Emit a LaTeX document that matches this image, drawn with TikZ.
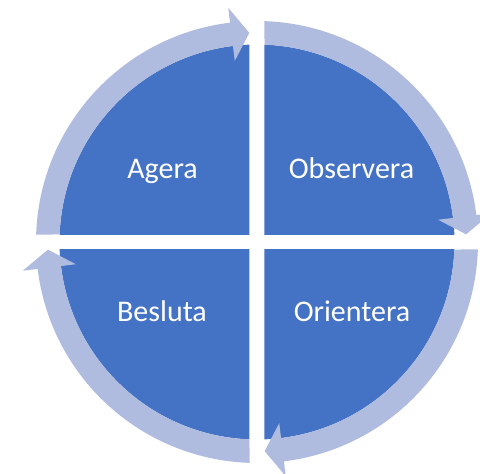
\documentclass[tikz,border=0pt]{standalone}
\usepackage{fontspec}
\setmainfont{Carlito}
\definecolor{darkblue}{HTML}{4472C4}
\definecolor{ringblue}{HTML}{B0BCDF}
\tikzset{
  quad/.style={fill=darkblue},
  ringarrow/.style={fill=ringblue},
  lbl/.style={text=white, font=\fontsize{30}{36}\selectfont, inner sep=0pt, anchor=base}
}
\begin{document}
\begin{tikzpicture}
\useasboundingbox (-257pt,-232pt) rectangle (223pt,242pt);
\clip (-257pt,-232pt) rectangle (223pt,242pt);
% four dark quarter discs
\foreach \r in {0,-90,-180,-270}{
  \begin{scope}[rotate=\r]
    \clip (7.5pt,7.5pt) rectangle (240pt,240pt);
    \fill[quad] (0,0) circle[radius=197.5pt];
  \end{scope}
}
% four curved arrows of the ring
\foreach \r in {0,-90,-180,-270}{
  \begin{scope}[rotate=\r]
    \fill[ringarrow] (88.06:221pt) arc[start angle=88.06, end angle=7, radius=221pt]
      -- (7:236pt) -- (2.1:209.25pt) -- (7:182.5pt) -- (7:197.5pt)
      arc[start angle=7, end angle=87.82, radius=197.5pt] -- cycle;
  \end{scope}
}
\node[lbl] (agera) at (-94.5pt,63pt) {Agera};
\node[lbl] (observera) at (94.5pt,63pt) {Observera};
\node[lbl] (besluta) at (-95pt,-79pt) {Besluta};
\node[lbl] (orientera) at (95pt,-79pt) {Orientera};
\end{tikzpicture}
\end{document}
